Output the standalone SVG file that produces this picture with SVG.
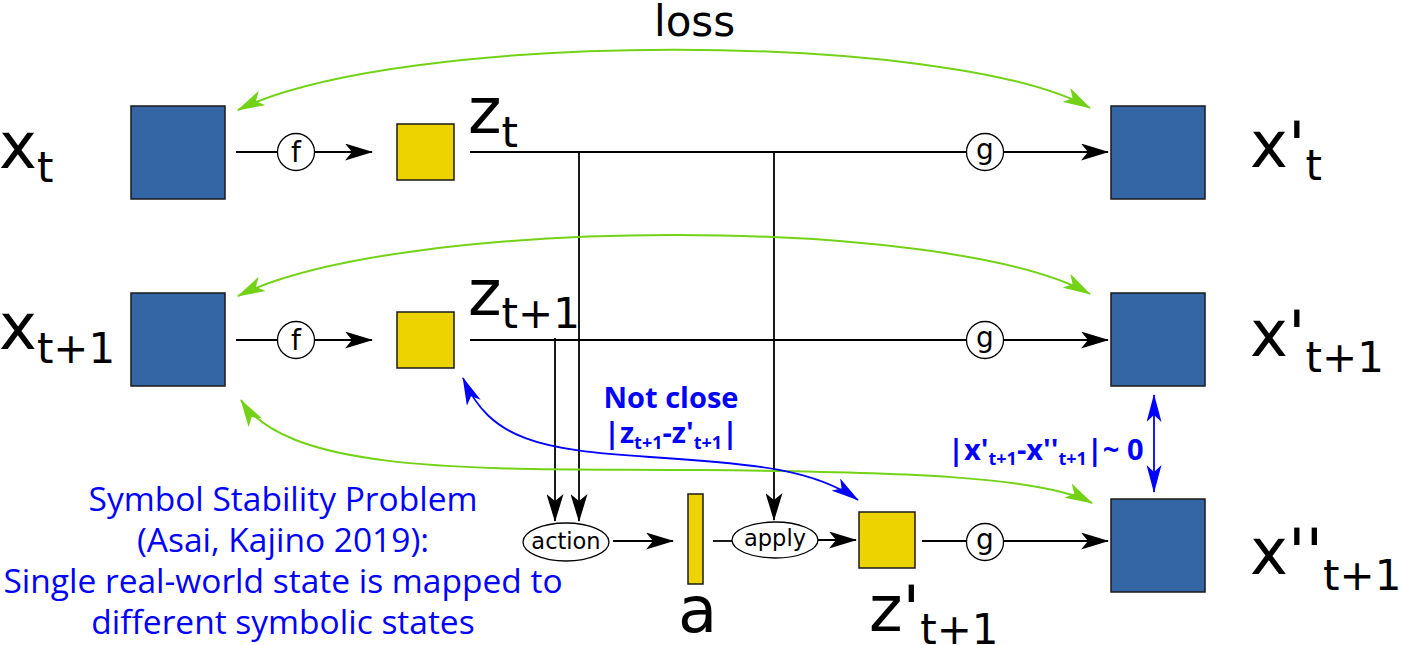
<svg xmlns="http://www.w3.org/2000/svg" width="1402" height="645" viewBox="0 0 1402 645">
<style>
.blue{fill:#3465a4;stroke:#1a1a1a;stroke-width:1.5}
.yel{fill:#edd400;stroke:#1a1a1a;stroke-width:1.5}
.big{font-family:"DejaVu Sans",sans-serif;font-size:64px;fill:#000}
.sub{font-size:42px}
.op{fill:#fff;stroke:#000;stroke-width:1.3}
.opt{font-family:"DejaVu Sans",sans-serif;font-size:28px;fill:#000;text-anchor:middle}
.opt2{font-family:"DejaVu Sans",sans-serif;font-size:22.5px;fill:#000;text-anchor:middle}
.k{fill:none;stroke:#000;stroke-width:1.8}
.gr{fill:none;stroke:#73d216;stroke-width:2}
.bl{fill:none;stroke:#0000ff;stroke-width:1.8}
.note{font-family:"Open Sans",sans-serif;font-size:33.5px;fill:#0000ff;text-anchor:middle}
.bnote{font-family:"Open Sans",sans-serif;font-weight:bold;font-size:29px;fill:#0000ff}
.bs{font-size:18px}
</style>
<defs>
<marker id="ak" markerWidth="28" markerHeight="17" refX="27" refY="8.5" orient="auto" markerUnits="userSpaceOnUse"><path d="M0,0 L28,8.5 L0,17 L7,8.5 Z" fill="#000"/></marker>
<marker id="ag" markerWidth="28" markerHeight="16" refX="27" refY="8" orient="auto-start-reverse" markerUnits="userSpaceOnUse"><path d="M0,0 L28,8 L0,16 L7,8 Z" fill="#73d216"/></marker>
<marker id="ab" markerWidth="28" markerHeight="15" refX="27" refY="7.5" orient="auto-start-reverse" markerUnits="userSpaceOnUse"><path d="M0,0 L28,7.5 L0,15 L7,7.5 Z" fill="#0000ff"/></marker>
</defs>

<g id="connectors">
<path class="k" d="M236,152 H372" marker-end="url(#ak)"/>
<path class="k" d="M470,152 H1108" marker-end="url(#ak)"/>
<path class="k" d="M236,340 H372" marker-end="url(#ak)"/>
<path class="k" d="M470,340 H1108" marker-end="url(#ak)"/>
<path class="k" d="M579,152 V521" marker-end="url(#ak)"/>
<path class="k" d="M555,338 V521" marker-end="url(#ak)"/>
<path class="k" d="M774,152 V520" marker-end="url(#ak)"/>
<path class="k" d="M613,541 H673" marker-end="url(#ak)"/>
<path class="k" d="M713,541 H733"/>
<path class="k" d="M817,540 H856" marker-end="url(#ak)"/>
<path class="k" d="M922,541 H1108" marker-end="url(#ak)"/>
<path class="gr" d="M238,110 C400,30 950,30 1090,108" marker-start="url(#ag)" marker-end="url(#ag)"/>
<path class="gr" d="M238,296 C400,215 950,215 1090,294" marker-start="url(#ag)" marker-end="url(#ag)"/>
<path class="gr" d="M241,400 C290,478 500,468 700,470 C900,472 1040,476 1092,503" marker-start="url(#ag)" marker-end="url(#ag)"/>
<path class="bl" d="M463,378 C490,440 540,450 650,457 C760,464 815,470 858,500" marker-start="url(#ab)" marker-end="url(#ab)"/>
<path class="bl" d="M1154,395 V492" marker-start="url(#ab)" marker-end="url(#ab)"/>
</g>

<g id="f1"><circle class="op" cx="296" cy="152" r="18.5"/><text class="opt" x="296" y="162">f</text></g>
<g id="g1"><circle class="op" cx="985" cy="152" r="18.5"/><text class="opt" x="985" y="159">g</text></g>
<g id="f2"><circle class="op" cx="296" cy="340" r="18.5"/><text class="opt" x="296" y="350">f</text></g>
<g id="g2"><circle class="op" cx="985" cy="340" r="18.5"/><text class="opt" x="985" y="347">g</text></g>
<g id="g3"><circle class="op" cx="985" cy="542" r="18.5"/><text class="opt" x="985" y="549">g</text></g>
<g id="action"><ellipse class="op" cx="566" cy="542" rx="43" ry="19"/><text class="opt2" x="566" y="549">action</text></g>
<g id="apply"><ellipse class="op" cx="775" cy="540" rx="43" ry="18"/><text class="opt2" x="775" y="546">apply</text></g>

<g id="xt"><rect class="blue" x="131" y="106" width="94" height="93"/><text class="big" x="-1" y="168">x<tspan class="sub" dy="14">t</tspan></text></g>
<g id="zt"><rect class="yel" x="397" y="124" width="57" height="56"/><text class="big" x="468" y="133">z<tspan class="sub" dy="14">t</tspan></text></g>
<g id="xpt"><rect class="blue" x="1111" y="106" width="94" height="93"/><text class="big" x="1250" y="167">x'<tspan class="sub" dy="13">t</tspan></text></g>

<g id="xt1"><rect class="blue" x="131" y="293" width="94" height="93"/><text class="big" x="-1" y="349">x<tspan class="sub" dy="14">t+1</tspan></text></g>
<g id="zt1"><rect class="yel" x="397" y="312" width="57" height="56"/><text class="big" x="468" y="315">z<tspan class="sub" dy="13">t+1</tspan></text></g>
<g id="xpt1"><rect class="blue" x="1111" y="293" width="94" height="93"/><text class="big" x="1250" y="356">x'<tspan class="sub" dy="16">t+1</tspan></text></g>

<g id="a"><rect class="yel" x="688" y="494" width="15" height="90"/><text class="big" x="678" y="632">a</text></g>
<g id="zpt1"><rect class="yel" x="859" y="512" width="56" height="56"/><text class="big" x="869" y="631">z'<tspan class="sub" dy="13">t+1</tspan></text></g>
<g id="xppt1"><rect class="blue" x="1111" y="499" width="94" height="93"/><text class="big" x="1250" y="574">x''<tspan class="sub" dy="16">t+1</tspan></text></g>

<g id="loss"><text class="big" style="font-size:42px" x="654" y="36">loss</text></g>

<g id="notclose">
<text class="bnote" style="text-anchor:middle" x="671" y="408">Not close</text>
<text class="bnote" style="text-anchor:middle" x="671" y="443">|z<tspan class="bs" dy="6">t+1</tspan><tspan dy="-6">-z'</tspan><tspan class="bs" dy="6">t+1</tspan><tspan dy="-6">|</tspan></text>
</g>
<g id="approx"><text class="bnote" x="948" y="460">|x'<tspan class="bs" dy="5">t+1</tspan><tspan dy="-5">-x''</tspan><tspan class="bs" dy="5">t+1</tspan><tspan dy="-5">|~ 0</tspan></text></g>

<g id="problem">
<text class="note" x="283" y="511">Symbol Stability Problem</text>
<text class="note" x="283" y="552">(Asai, Kajino 2019):</text>
<text class="note" x="283" y="593">Single real-world state is mapped to</text>
<text class="note" x="283" y="634">different symbolic states</text>
</g>
</svg>
